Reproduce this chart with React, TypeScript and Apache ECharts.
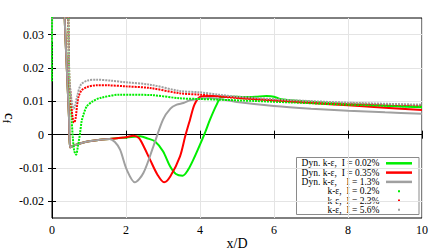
import React, { useEffect, useRef } from 'react';
import * as echarts from 'echarts';

const xTicks = [0, 2, 4, 6, 8, 10];
const yTicks = [-0.02, -0.01, 0, 0.01, 0.02, 0.03];

const legendLabels = [
  'Dyn. k-ε,  I = 0.02%',
  'Dyn. k-ε,  I = 0.35%',
  'Dyn. k-ε,    I = 1.3%',
  'k-ε,  I = 0.2%',
  'k-ε,  I = 2.3%',
  'k-ε,  I = 5.6%',
];
const seriesColors = ['#00ee00', '#ff0000', '#a0a0a0', '#00ee00', '#ff0000', '#a0a0a0'];

// shared leading-edge part of the dynamic k-eps curves
const dynLead: number[][] = [
  [0, 0.028], [0.01, 0.05], [0.32, 0.05], [0.34, 0.036], [0.4, 0.02], [0.46, 0.005],
  [0.49, -0.0038], [0.6, -0.0032], [0.8, -0.0025], [1.0, -0.002], [1.3, -0.0015], [1.55, -0.0013],
];
const dynGreenTail: number[][] = [
  [1.8, -0.001], [2.0, -0.0009], [2.38, -0.0005], [2.6, -0.0012], [2.78, -0.002], [3.0, -0.005],
  [3.19, -0.0095], [3.35, -0.0118], [3.53, -0.0123], [3.68, -0.0105], [3.82, -0.0075], [4.0, -0.003],
  [4.15, 0.001], [4.27, 0.0045], [4.45, 0.009], [4.58, 0.0113], [4.8, 0.0114], [5.2, 0.0113],
  [5.5, 0.0114], [5.8, 0.0116], [6.0, 0.0114], [6.2, 0.0106], [7, 0.0099], [8, 0.0092], [9, 0.0087], [10, 0.0082],
];
const dynRedTail: number[][] = [
  [1.8, -0.001], [2.0, -0.0008], [2.2, -0.0003], [2.35, -0.001], [2.5, -0.004], [2.65, -0.0075],
  [2.85, -0.012], [3.03, -0.0143], [3.2, -0.0125], [3.46, -0.0065], [3.6, -0.0005], [3.73, 0.0045],
  [3.85, 0.009], [4.0, 0.0113], [4.3, 0.0116], [5, 0.0111], [6, 0.0103], [7, 0.0095], [8, 0.0088],
  [9, 0.0081], [10, 0.0074],
];
const dynGreyTail: number[][] = [
  [1.7, -0.0022], [1.84, -0.0045], [2.02, -0.0105], [2.24, -0.0143], [2.47, -0.0115], [2.74, -0.0035],
  [3.0, 0.0045], [3.2, 0.0078], [3.37, 0.009], [3.55, 0.0095], [3.73, 0.0103], [4.27, 0.011],
  [5, 0.0098], [6, 0.0086], [7, 0.0078], [8, 0.0072], [9, 0.0067], [10, 0.0063],
];
const keGreen: number[][] = [
  [0, 0.016], [0.01, 0.05], [0.42, 0.05], [0.44, 0.035], [0.45, 0.028], [0.46, 0.0205], [0.47, 0.0156],
  [0.5, 0.011], [0.53, 0.005], [0.56, -0.0005], [0.6, -0.0048], [0.65, -0.006], [0.7, -0.0035],
  [0.76, 0.0006], [0.8, 0.004], [0.85, 0.006], [0.94, 0.0085], [1.1, 0.01], [1.3, 0.011], [1.84, 0.012],
  [2.65, 0.0119], [3.46, 0.0109], [4.0, 0.0107], [4.5, 0.0105], [5.5, 0.0101], [6.4, 0.0097],
  [8, 0.009], [10, 0.0084],
];
const keRed: number[][] = [
  [0.43, 0.05], [0.44, 0.035], [0.45, 0.028], [0.46, 0.0205], [0.47, 0.0156], [0.5, 0.0125],
  [0.53, 0.008], [0.56, 0.005], [0.6, 0.0036], [0.64, 0.005], [0.68, 0.009], [0.72, 0.0115],
  [0.8, 0.0133], [0.95, 0.0143], [1.2, 0.0148], [1.5, 0.0148], [2.0, 0.0145], [2.65, 0.014],
  [3.46, 0.0124], [4.0, 0.012], [4.5, 0.0115], [5.0, 0.011], [6.4, 0.0101], [8, 0.0094], [10, 0.0088],
];
const keGrey: number[][] = [
  [0.43, 0.05], [0.44, 0.036], [0.45, 0.029], [0.46, 0.0215], [0.47, 0.0165], [0.5, 0.013],
  [0.54, 0.0095], [0.58, 0.0078], [0.62, 0.0085], [0.68, 0.0115], [0.78, 0.015], [0.95, 0.0162],
  [1.2, 0.0165], [1.6, 0.0162], [2.0, 0.0157], [2.65, 0.015], [3.46, 0.0131], [4.0, 0.0127],
  [4.5, 0.012], [5.0, 0.0114], [6.4, 0.0104], [8, 0.0096], [10, 0.009],
];

const FONT = 'Liberation Serif';

export default function App() {
  const ref = useRef<HTMLDivElement>(null);
  useEffect(() => {
    const chart = echarts.init(ref.current!, null, { renderer: 'svg' });
    const dynData = [
      dynLead.concat(dynGreenTail),
      dynLead.concat(dynRedTail),
      dynLead.concat(dynGreyTail),
    ];
    const keData = [keGreen, keRed, keGrey];
    const series: any[] = [];
    dynData.forEach((d, i) => {
      series.push({
        type: 'line', name: legendLabels[i], data: d, showSymbol: false, smooth: 0.3,
        lineStyle: { color: seriesColors[i], width: 2 }, itemStyle: { color: seriesColors[i] },
        clip: true, z: 2,
      });
    });
    keData.forEach((d, i) => {
      series.push({
        type: 'line', name: legendLabels[i + 3], data: d, showSymbol: false, smooth: 0.3,
        lineStyle: { color: seriesColors[i + 3], width: 2, type: [2, 1] },
        itemStyle: { color: seriesColors[i + 3] }, clip: true, z: 3,
      });
    });

    const rowY = [163.3, 172.6, 181.9, 191.2, 200.5, 209.8];
    const legendChildren: any[] = [
      { type: 'rect', shape: { x: 296.5, y: 157.5, width: 122.5, height: 57 },
        style: { fill: '#fff', stroke: '#8a8a8a', lineWidth: 1 } },
    ];
    legendLabels.forEach((t, i) => {
      legendChildren.push({
        type: 'text',
        style: { text: t, x: 379.5, y: rowY[i], fontSize: 9.5, lineHeight: 9, fontFamily: FONT, fill: '#000',
          align: 'right', verticalAlign: 'middle', textAlign: 'right', textVerticalAlign: 'middle' },
      });
      if (i < 3) {
        legendChildren.push({
          type: 'line', shape: { x1: 386, y1: rowY[i], x2: 412, y2: rowY[i] },
          style: { stroke: seriesColors[i], lineWidth: 2.5 },
        });
      } else {
        legendChildren.push({
          type: 'rect', shape: { x: 398, y: rowY[i] - 1, width: 2, height: 2 },
          style: { fill: seriesColors[i] },
        });
      }
    });

    const option: any = {
      animation: false,
      backgroundColor: '#fff',
      grid: {
        left: 52, right: 9, top: 18, bottom: 33, show: true, borderColor: '#000', borderWidth: 1,
        containLabel: false, outerBoundsMode: 'none',
      },
      xAxis: [
        {
          type: 'value', min: xTicks[0], max: xTicks[xTicks.length - 1], interval: 2, position: 'bottom',
          axisLine: { show: true, lineStyle: { color: '#000', width: 1 } },
          axisTick: { show: true, inside: true, length: 4, lineStyle: { color: '#000' } },
          splitLine: { show: true, lineStyle: { color: '#e4e4e4', width: 1 } },
          axisLabel: { fontFamily: FONT, fontSize: 12, color: '#000', margin: 6 },
          name: 'x/D', nameLocation: 'middle', nameGap: 19, nameMoveOverlap: false,
          nameTextStyle: { fontFamily: FONT, fontSize: 14, color: '#000', lineHeight: 13 },
        },
        {
          type: 'value', min: 0, max: 10, interval: 2, position: 'top',
          axisLine: { show: true, lineStyle: { color: '#000', width: 1 } },
          axisTick: { show: true, inside: true, length: 4, lineStyle: { color: '#000' } },
          splitLine: { show: false }, axisLabel: { show: false },
        },
      ],
      yAxis: [
        {
          type: 'value', min: -0.025, max: 0.035, position: 'left',
          axisLine: { show: true, lineStyle: { color: '#000', width: 1 } },
          axisTick: { show: true, inside: true, length: 4, lineStyle: { color: '#000' }, customValues: yTicks },
          splitLine: { show: true, lineStyle: { color: '#e4e4e4', width: 1 } },
          axisLabel: {
            fontFamily: FONT, fontSize: 12, color: '#000', margin: 8, customValues: yTicks,
            formatter: (v: number) => String(Math.round(v * 100) / 100),
          },
          name: '{c|c}{f|f}', nameLocation: 'middle', nameRotate: -90, nameGap: 33, nameMoveOverlap: false,
          nameTextStyle: {
            color: '#000',
            rich: {
              c: { fontFamily: FONT, fontSize: 15, color: '#000', verticalAlign: 'middle' },
              f: { fontFamily: FONT, fontSize: 10, color: '#000', verticalAlign: 'middle', padding: [8, 0, 0, 0] },
            },
          },
        },
        {
          type: 'value', min: -0.025, max: 0.035, position: 'right',
          axisLine: { show: true, lineStyle: { color: '#000', width: 1 } },
          axisTick: { show: true, inside: true, length: 4, lineStyle: { color: '#000' }, customValues: yTicks },
          splitLine: { show: false }, axisLabel: { show: false },
        },
      ],
      series,
      graphic: [
        { type: 'group', z: 100, children: legendChildren },
      ],
    };
    chart.setOption(option);
    return () => chart.dispose();
  }, []);
  return <div ref={ref} style={{ position: 'fixed', left: 0, top: 0, width: 431, height: 251 }} />;
}
